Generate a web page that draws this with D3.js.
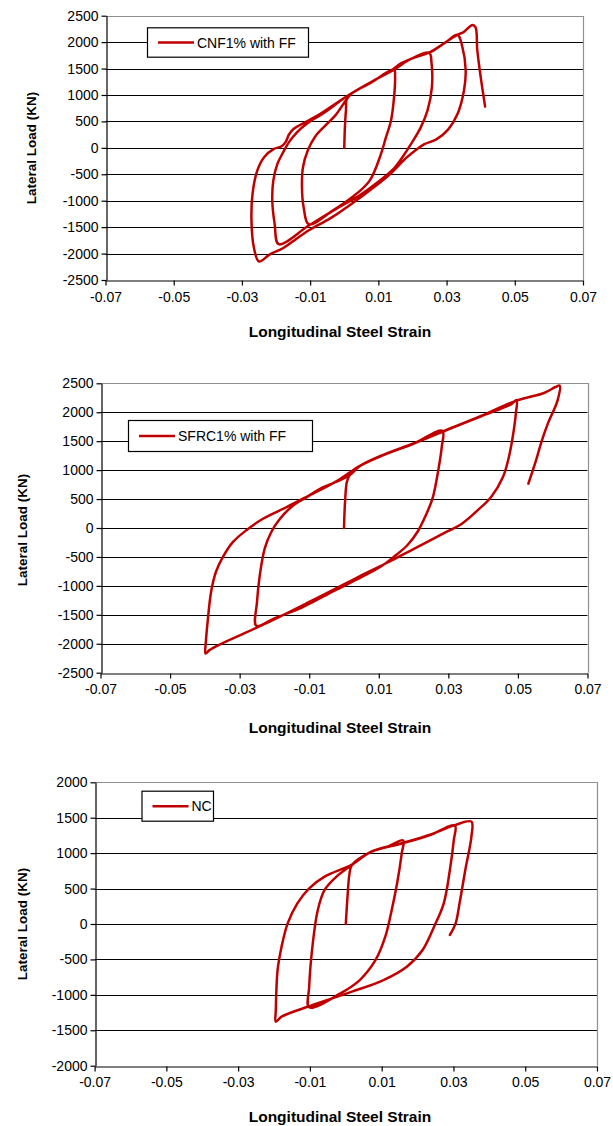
<!DOCTYPE html>
<html><head><meta charset="utf-8">
<script src="https://cdn.jsdelivr.net/npm/d3@7"></script>
<style>
body{margin:0;background:#fff;}
svg{display:block;}
</style></head><body>
<svg id="c" width="613" height="1126"></svg>
<script>
// ---------------- data ----------------
const xTickValues = [-0.07,-0.05,-0.03,-0.01,0.01,0.03,0.05,0.07];
const xTickLabels = ["-0.07","-0.05","-0.03","-0.01","0.01","0.03","0.05","0.07"];
const yTicksLarge = [-2500,-2000,-1500,-1000,-500,0,500,1000,1500,2000,2500];
const yTicksSmall = [-2000,-1500,-1000,-500,0,500,1000,1500,2000];
const seriesNames = ["CNF1% with FF","SFRC1% with FF","NC"];
const xTitle = "Longitudinal Steel Strain";
const yTitle = "Lateral Load (KN)";

// [strain, lateral load (kN)] in loading order
const cnfPoints = [
 [0,0],[0.0002,400],[0.0005,710],[0.0010,960],
 [0.0080,1240],[0.0146,1480],
 [0.0149,1342],[0.0146,958],[0.0137,511],[0.0122,192],[0.0107,-128],[0.0074,-625],[0.0022,-941],[-0.0035,-1193],[-0.0104,-1446],
 [-0.0119,-1127],[-0.0124,-747],[-0.0121,-367],[-0.0107,-51],[-0.0085,215],[-0.0055,424],[-0.0026,614],[0.0005,900],
 [0.0020,1020],[0.0080,1250],[0.0137,1460],[0.0166,1597],[0.0194,1680],[0.0249,1800],
 [0.0256,1597],[0.0257,1150],[0.0244,703],[0.0224,383],[0.0195,64],[0.0183,-57],[0.0148,-372],[0.0100,-640],[0.0040,-920],[-0.0020,-1140],[-0.0104,-1470],[-0.0192,-1823],
 [-0.0204,-1443],[-0.0211,-1000],[-0.0208,-620],[-0.0196,-304],[-0.0179,-82],[-0.0162,108],[-0.0138,298],[-0.0107,468],[-0.0060,660],
 [0.0010,985],[0.0080,1250],[0.0146,1480],[0.0194,1680],[0.0249,1800],[0.0297,1995],[0.0332,2140],
 [0.0346,1917],[0.0356,1470],[0.0351,1086],[0.0332,639],[0.0305,350],[0.0270,160],[0.0235,70],[0.0210,-40],[0.0180,-200],[0.0137,-480],[0.0080,-780],[0.0028,-1030],[-0.0040,-1330],[-0.0104,-1560],[-0.0180,-1900],[-0.0218,-2014],[-0.0250,-2150],
 [-0.0265,-1886],[-0.0272,-1380],[-0.0269,-874],[-0.0255,-430],[-0.0235,-177],[-0.0206,-19],[-0.0185,25],[-0.0172,108],[-0.0162,253],[-0.0148,361],[-0.0114,487],[-0.0070,646],
 [0.0010,985],[0.0080,1250],[0.0146,1480],[0.0194,1680],[0.0249,1800],[0.0297,1995],[0.0332,2140],[0.0350,2190],[0.0376,2325],[0.0385,2280],
 [0.0390,1853],[0.0400,1342],[0.0413,780]
];

const sfrcPoints = [
 [0,0],[0.0003,450],[0.0008,790],[0.0015,900],[0.0035,1030],[0.0047,1077],
 [0.0105,1240],[0.0201,1460],[0.0283,1680],
 [0.0281,1400],[0.0271,996],[0.0255,520],[0.0235,218],[0.0211,-69],[0.0182,-298],[0.0143,-499],[0.0105,-670],[0.0050,-850],[-0.0030,-1090],[-0.0120,-1370],[-0.0200,-1560],[-0.0252,-1690],
 [-0.0250,-1272],[-0.0242,-814],[-0.0228,-355],[-0.0209,-69],[-0.0184,160],[-0.0146,390],[-0.0107,533],[-0.0069,676],[-0.0021,800],[0.0018,920],[0.0047,1077],
 [0.0105,1240],[0.0201,1460],[0.0283,1660],[0.0394,1930],[0.0480,2137],[0.0496,2210],
 [0.0494,1976],[0.0485,1572],[0.0474,1227],[0.0457,881],[0.0423,536],[0.0384,305],[0.0339,75],[0.0297,-60],[0.0201,-360],[0.0134,-570],[0.0066,-770],[0.0008,-950],[-0.0088,-1240],[-0.0184,-1530],[-0.0254,-1730],[-0.0353,-2000],[-0.0387,-2110],[-0.0398,-2170],
 [-0.0397,-1960],[-0.0392,-1616],[-0.0382,-1100],[-0.0368,-756],[-0.0348,-499],[-0.0319,-241],[-0.0281,-40],[-0.0233,160],[-0.0165,361],[-0.0107,540],[-0.0021,810],[0.0047,1080],
 [0.0105,1245],[0.0201,1465],[0.0283,1665],[0.0394,1935],[0.0496,2200],[0.0575,2333],[0.0608,2436],[0.0620,2460],
 [0.0614,2206],[0.0586,1803],[0.0569,1515],[0.0552,1169],[0.0530,766]
];

const ncPoints = [
 [0,0],[0.0005,400],[0.0010,700],[0.0017,833],
 [0.0072,1021],[0.0120,1100],[0.0160,1180],
 [0.0156,1000],[0.0143,574],[0.0126,151],[0.0110,-179],[0.0083,-508],[0.0039,-791],[-0.0015,-979],[-0.0102,-1176],
 [-0.0102,-885],[-0.0092,-273],[-0.0078,198],[-0.0059,480],[-0.0026,668],[0.0017,833],
 [0.0072,1021],[0.0159,1140],[0.0235,1256],[0.0304,1390],
 [0.0301,1186],[0.0290,762],[0.0273,292],[0.0246,-38],[0.0214,-367],[0.0170,-602],[0.0105,-791],[0.0017,-955],[-0.0092,-1144],[-0.0179,-1308],[-0.0195,-1379],
 [-0.0195,-1214],[-0.0190,-649],[-0.0179,-320],[-0.0162,9],[-0.0135,292],[-0.0102,504],[-0.0059,668],[0.0017,840],
 [0.0072,1025],[0.0159,1145],[0.0235,1260],[0.0304,1395],[0.0350,1445],
 [0.0350,1233],[0.0333,762],[0.0317,292],[0.0306,9],[0.0290,-155]
];

// ---------------- layout ----------------
const charts = [
 {pts: cnfPoints, name: seriesNames[0], yTicks: yTicksLarge, yDomain: [-2500,2500],
  x0: 105.5, x1: 583, y0: 15.7, y1: 280, xPad: 7,
  legend: {x: 147, y: 27.3, w: 161, h: 29.4}, xTitleY: 337, yTitleX: 31, yTitleY: 148},
 {pts: sfrcPoints, name: seriesNames[1], yTicks: yTicksLarge, yDomain: [-2500,2500],
  x0: 100.5, x1: 587.5, y0: 383.3, y1: 672.7, xPad: 6,
  legend: {x: 128, y: 420, w: 184, h: 31}, xTitleY: 733, yTitleX: 22, yTitleY: 530},
 {pts: ncPoints, name: seriesNames[2], yTicks: yTicksSmall, yDomain: [-2000,2000],
  x0: 94.6, x1: 597, y0: 782.3, y1: 1065.7, xPad: 6,
  legend: {x: 141.5, y: 790.7, w: 71.5, h: 30}, xTitleY: 1122, yTitleX: 22, yTitleY: 924}
];

const RED = "#C00000";
const FONT = "'Liberation Sans', Arial, sans-serif";
const svg = d3.select("#c");

charts.forEach(c => {
  const x = d3.scaleLinear().domain([-0.07, 0.07]).range([c.x0, c.x1]);
  const y = d3.scaleLinear().domain(c.yDomain).range([c.y1, c.y0]);
  const g = svg.append("g");

  // gridlines
  const top = c.yDomain[1], bot = c.yDomain[0];
  g.selectAll("line.grid").data(c.yTicks.filter(v => v !== bot && v !== top)).enter()
    .append("line").attr("x1", c.x0).attr("x2", c.x1)
    .attr("y1", d => Math.round(y(d)) + 0.5).attr("y2", d => Math.round(y(d)) + 0.5)
    .attr("stroke", "#000").attr("stroke-width", 1.2);
  // top & right border
  g.append("path")
    .attr("d", `M${c.x0},${Math.round(y(top))+0.5}H${Math.round(c.x1)+0.5}V${c.y1}`)
    .attr("fill", "none").attr("stroke", "#909090").attr("stroke-width", 1.2);

  // axes
  const xa = g.append("g").attr("transform", `translate(0,${Math.round(c.y1)+0.5})`)
    .call(d3.axisBottom(x).tickValues(xTickValues).tickFormat((d, i) => xTickLabels[i])
      .tickSize(5).tickSizeOuter(0).tickPadding(c.xPad));
  const ya = g.append("g").attr("transform", `translate(${Math.round(c.x0)+0.5},0)`)
    .call(d3.axisLeft(y).tickValues(c.yTicks).tickFormat(d => String(d))
      .tickSize(5).tickSizeOuter(0).tickPadding(3));
  [xa, ya].forEach(a => {
    a.attr("font-family", FONT).attr("font-size", 14);
    a.selectAll("path,line").attr("stroke", "#000").attr("stroke-width", 1.2);
    a.selectAll("text").attr("fill", "#000");
  });

  // series
  const line = d3.line().x(d => x(d[0])).y(d => y(d[1])).curve(d3.curveCatmullRom.alpha(0.5));
  g.append("path").datum(c.pts).attr("d", line)
    .attr("fill", "none").attr("stroke", RED).attr("stroke-width", 2.5)
    .attr("stroke-linejoin", "round").attr("stroke-linecap", "round");

  // legend
  const L = c.legend;
  g.append("rect").attr("x", L.x + 0.5).attr("y", L.y + 0.5).attr("width", L.w).attr("height", L.h)
    .attr("fill", "#fff").attr("stroke", "#000").attr("stroke-width", 1.2);
  g.append("line").attr("x1", L.x + 11).attr("x2", L.x + 47)
    .attr("y1", L.y + L.h / 2 + 0.5).attr("y2", L.y + L.h / 2 + 0.5)
    .attr("stroke", RED).attr("stroke-width", 2.6);
  g.append("text").attr("x", L.x + 50).attr("y", L.y + L.h / 2 + 5.5)
    .attr("font-family", FONT).attr("font-size", 14).attr("fill", "#000").text(c.name);

  // titles
  g.append("text").attr("x", 340).attr("y", c.xTitleY).attr("text-anchor", "middle")
    .attr("font-family", FONT).attr("font-size", 15.5).attr("font-weight", "bold").text(xTitle);
  g.append("text").attr("transform", `translate(${c.yTitleX + 5},${c.yTitleY}) rotate(-90)`)
    .attr("text-anchor", "middle")
    .attr("font-family", FONT).attr("font-size", 13.5).attr("font-weight", "bold").text(yTitle);
});
</script>
</body></html>
